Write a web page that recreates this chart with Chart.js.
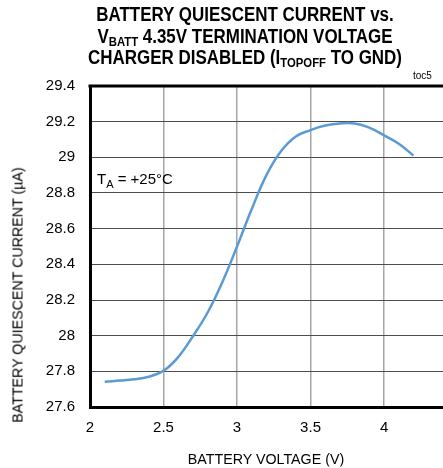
<!DOCTYPE html>
<html>
<head>
<meta charset="utf-8">
<script src="https://cdn.jsdelivr.net/npm/chart.js@4.4.1/dist/chart.umd.min.js"></script>
<style>
  html, body { margin: 0; padding: 0; background: #fff; overflow: hidden; }
  body { width: 443px; height: 468px; position: relative; font-family: "Liberation Sans", Arial, sans-serif; }
  #wrap { position: absolute; left: 0; top: 0; width: 480px; height: 468px; }
  .title { position: absolute; left: 0; top: 4px; width: 490px; text-align: center;
           font-weight: bold; font-size: 19.5px; line-height: 21.5px; color: #000;
           transform: scaleX(0.87); transform-origin: 245px 0; }
  .title sub { font-size: 13px; vertical-align: -3px; line-height: 0; }
  .note { position: absolute; font-size: 15px; color: #000; }
  .note sub { font-size: 11px; vertical-align: -4px; line-height: 0; }
  .toc { position: absolute; left: 413px; top: 70px; font-size: 10px; color: #000; }
  .ylab { position: absolute; left: 17px; top: 295px; font-size: 15px; white-space: nowrap;
          transform: translate(-50%, -50%) rotate(-90deg) scaleX(0.95); }
  .xlab { position: absolute; left: 266px; top: 458px; font-size: 15px; white-space: nowrap;
          transform: translate(-50%, -50%) scaleX(0.95); }
</style>
</head>
<body>
<div id="wrap"><canvas id="chart" width="480" height="468"></canvas></div>
<div class="title">BATTERY QUIESCENT CURRENT vs.<br>V<sub>BATT</sub> 4.35V TERMINATION VOLTAGE<br>CHARGER DISABLED (I<sub>TOPOFF</sub> TO GND)</div>
<div class="toc">toc5</div>
<div class="note" style="left:97px; top:170px;">T<sub>A</sub> = +25°C</div>
<div class="ylab">BATTERY QUIESCENT CURRENT (µA)</div>
<div class="xlab">BATTERY VOLTAGE (V)</div>
<script>
// battery voltage (V)
const voltage = [2.1, 2.2, 2.3, 2.4, 2.5, 2.6, 2.7, 2.8, 2.9, 3.0, 3.1, 3.2, 3.3, 3.4, 3.5, 3.6, 3.7, 3.8, 3.9, 4.0, 4.1, 4.2];
// quiescent current (uA)
const current = [27.742, 27.748, 27.755, 27.77, 27.803, 27.88, 27.997, 28.13, 28.3, 28.5, 28.71, 28.9, 29.035, 29.117, 29.153, 29.178, 29.19, 29.19, 29.167, 29.123, 29.076, 29.01];

const xTicks = [2, 2.5, 3, 3.5, 4, 4.5];
const yTicks = [27.6, 27.8, 28, 28.2, 28.4, 28.6, 28.8, 29, 29.2, 29.4];

// top frame line
const topBorder = {
  id: 'topBorder',
  afterDraw(chart) {
    const { ctx, chartArea } = chart;
    ctx.save();
    ctx.strokeStyle = '#000';
    ctx.lineWidth = 3;
    ctx.beginPath();
    ctx.moveTo(chartArea.left - 1.5, chartArea.top);
    ctx.lineTo(chartArea.right, chartArea.top);
    ctx.stroke();
    ctx.restore();
  }
};

new Chart(document.getElementById('chart'), {
  type: 'line',
  data: {
    datasets: [{
      data: voltage.map((v, i) => ({ x: v, y: current[i] })),
      borderColor: '#5b9bd5',
      borderWidth: 2.5,
      pointRadius: 0,
      tension: 0.4,
      fill: false
    }]
  },
  options: {
    responsive: false,
    animation: false,
    layout: { padding: { top: 86, right: 19, left: 0, bottom: 0 } },
    plugins: { legend: { display: false }, tooltip: { enabled: false } },
    scales: {
      x: {
        type: 'linear',
        min: 2, max: 4.5,
        afterBuildTicks(axis) { axis.ticks = xTicks.map(v => ({ value: v })); },
        afterFit(axis) { axis.height = 61; },
        grid: { color: '#a6a6a6', lineWidth: 1.5, drawTicks: false },
        border: { color: '#000', width: 3 },
        ticks: {
          padding: 12,
          color: '#000',
          font: { family: 'Liberation Sans', size: 15 },
          callback: v => String(v)
        }
      },
      y: {
        type: 'linear',
        min: 27.6, max: 29.4,
        afterBuildTicks(axis) { axis.ticks = yTicks.map(v => ({ value: v })); },
        afterFit(axis) { axis.width = 90; },
        grid: { color: '#4d4d4d', lineWidth: 1, drawTicks: false },
        border: { color: '#000', width: 3 },
        ticks: {
          padding: 15,
          color: '#000',
          font: { family: 'Liberation Sans', size: 15 },
          callback: v => String(Math.round(v * 10) / 10)
        }
      }
    }
  },
  plugins: [topBorder]
});
</script>
</body>
</html>
